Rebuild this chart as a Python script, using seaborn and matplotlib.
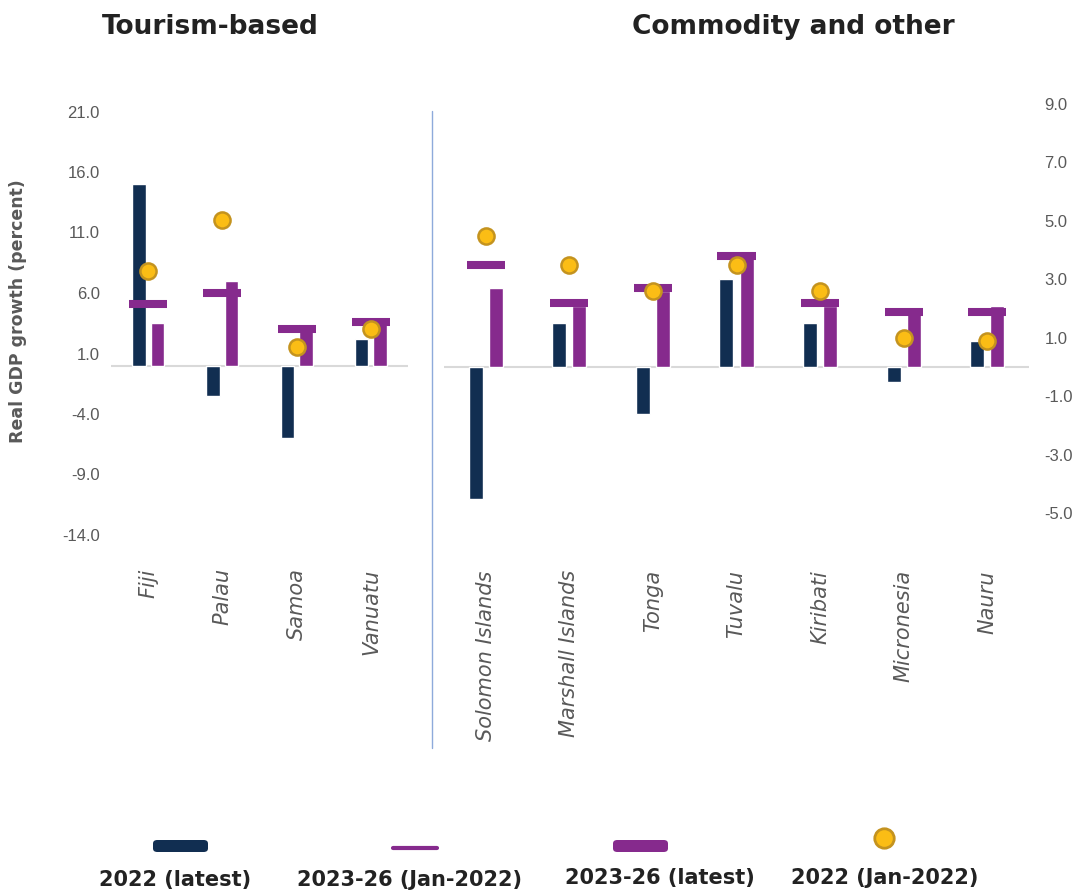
import numpy as np
import pandas as pd
import matplotlib
matplotlib.use("Agg")
import matplotlib.pyplot as plt
from matplotlib.lines import Line2D
from matplotlib.patches import FancyBboxPatch
import seaborn as sns

# tourism-based economies (left axis)
tourism = ['Fiji', 'Palau', 'Samoa', 'Vanuatu']
t_2022_latest = [15.0, -2.5, -6.0, 2.2]
t_2326_latest = [3.5, 7.0, 3.4, 3.5]
t_2326_jan = [5.1, 6.0, 3.0, 3.6]
t_2022_jan = [7.8, 12.0, 1.5, 3.0]

# commodity and other (right axis)
commodity = ['Solomon Islands', 'Marshall Islands', 'Tonga', 'Tuvalu',
             'Kiribati', 'Micronesia', 'Nauru']
c_2022_latest = [-4.5, 1.5, -1.6, 3.0, 1.5, -0.5, 0.9]
c_2326_latest = [2.7, 2.1, 2.6, 3.8, 2.1, 1.8, 2.1]
c_2326_jan = [3.5, 2.2, 2.7, 3.8, 2.2, 1.9, 1.9]
c_2022_jan = [4.5, 3.5, 2.6, 3.5, 2.6, 1.0, 0.9]

series_names = ['2022 (latest)', '2023-26 (Jan-2022)', '2023-26 (latest)', '2022 (Jan-2022)']

navy = '#112e51'
purple = '#862a8d'
gold = '#fbbd15'
gold_edge = '#c4931f'
grey = '#595959'
dark_text = '#222222'

sns.set_style('white')
plt.rcParams['font.family'] = ['DejaVu Sans']

W, H = 1079, 893
fig = plt.figure(figsize=(W / 100, H / 100), dpi=100)


def fx(px):
    return px / W


def fy(py):
    return 1 - py / H


def draw_panel(ax, names, latest22, latest2326, jan2326, jan22, width, gap, half_dash, pad):
    n = len(names)
    df = pd.DataFrame({
        'country': names * 2,
        'series': ['2022 (latest)'] * n + ['2023-26 (latest)'] * n,
        'value': latest22 + latest2326,
    })
    sns.barplot(data=df, x='country', y='value', hue='series', order=names,
                hue_order=['2022 (latest)', '2023-26 (latest)'],
                palette=[navy, purple], width=width, gap=gap, saturation=1,
                errorbar=None, legend=False, ax=ax, zorder=2)
    pos = np.arange(n)
    ax.hlines(jan2326, pos - half_dash, pos + half_dash, color=purple, lw=5.8, zorder=3)
    sns.scatterplot(x=pos, y=jan22, s=135, color=gold, edgecolor=gold_edge,
                    linewidth=1.8, zorder=5, legend=False, ax=ax)
    ax.axhline(0, color='#d9d9d9', lw=1.5, zorder=1)
    ax.set_xlim(-0.5, n - 0.5)
    ax.set_xticks(pos)
    ax.set_xticklabels(names, rotation=90, style='italic', fontsize=15, color=grey)
    ax.tick_params(axis='x', length=0, pad=pad)
    ax.set_xlabel('')
    ax.set_ylabel('')
    for s in ax.spines.values():
        s.set_visible(False)


# left panel
axl = fig.add_axes([fx(111), fy(535), fx(408) - fx(111), (535 - 111.5) / H])
draw_panel(axl, tourism, t_2022_latest, t_2326_latest, t_2326_jan, t_2022_jan,
           width=0.5, gap=0.28, half_dash=0.255, pad=24)
axl.set_ylim(-14, 21)
axl.set_yticks(np.arange(-14, 22, 5))
axl.set_yticklabels([f'{v:.1f}' for v in np.arange(-14, 22, 5)],
                    fontsize=12, color=grey, family='Liberation Sans')
axl.tick_params(axis='y', length=0, pad=8)

# right panel
axr = fig.add_axes([fx(444), fy(513.3), fx(1029) - fx(444), (513.3 - 104) / H])
draw_panel(axr, commodity, c_2022_latest, c_2326_latest, c_2326_jan, c_2022_jan,
           width=0.48, gap=0.3, half_dash=0.228, pad=41)
axr.set_ylim(-5, 9)
axr.yaxis.tick_right()
axr.set_yticks(np.arange(-5, 10, 2))
axr.set_yticklabels([f'{v:.1f}' for v in np.arange(-5, 10, 2)],
                    fontsize=12, color=grey, family='Liberation Sans')
axr.tick_params(axis='y', length=0, pad=11, left=False, right=False)

# divider between panels
fig.add_artist(Line2D([fx(432), fx(432)], [fy(111), fy(748)], color='#8eaadb', lw=1))

# titles and y label
fig.text(fx(210), fy(27), 'Tourism-based', ha='center', va='center',
         fontsize=19, fontweight='bold', color=dark_text)
fig.text(fx(793), fy(27), 'Commodity and other', ha='center', va='center',
         fontsize=19, fontweight='bold', color=dark_text)
fig.text(fx(18), fy(311), 'Real GDP growth (percent)', rotation=90, ha='center',
         va='center', fontsize=12.5, fontweight='bold', color=grey)

# legend: symbol above label
for x0, x1, col in [(153, 208, navy), (613, 668, purple)]:
    fig.add_artist(FancyBboxPatch((fx(x0), fy(852)), fx(x1) - fx(x0), fy(840) - fy(852),
                                  boxstyle='round,pad=0,rounding_size=0.004',
                                  transform=fig.transFigure, facecolor=col,
                                  edgecolor='none'))
fig.add_artist(Line2D([fx(393), fx(437)], [fy(848), fy(848)], color=purple, lw=3))
fig.add_artist(Line2D([fx(884)], [fy(838)], marker='o', markersize=14, color=gold,
                      markeredgecolor=gold_edge, markeredgewidth=2, lw=0))
for label, cx, cy in zip(series_names, [175, 410, 660, 885], [880, 880, 878, 878]):
    fig.text(fx(cx), fy(cy), label, ha='center', va='center', fontsize=15,
             fontweight='bold', color=dark_text)

fig.savefig('out.png', dpi=100)
